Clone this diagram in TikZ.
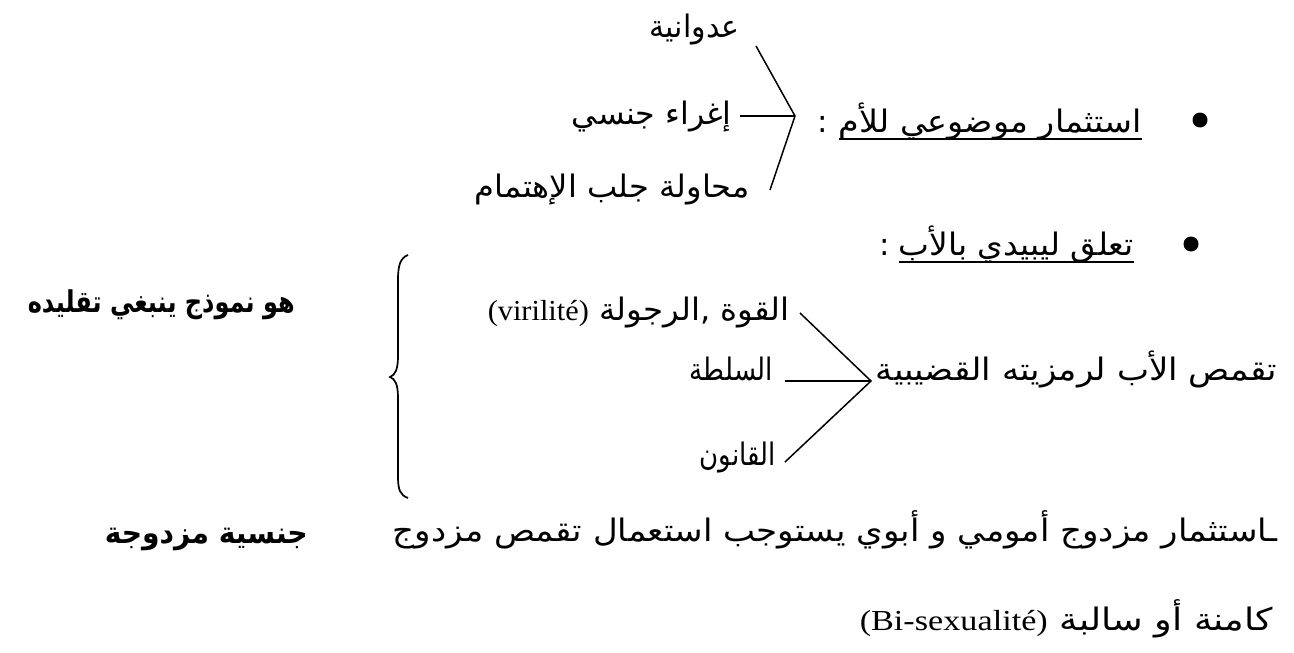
\documentclass[tikz,border=0pt]{standalone}
\usepackage{fontspec}
\usepackage{graphicx}
\TeXXeTstate=1
\setmainfont{Liberation Serif}
\newfontfamily\arabicfont[Script=Arabic]{DejaVu Sans}
\newfontfamily\latinserif{Liberation Serif}
\newcommand\ARtxt[2]{\resizebox{#1pt}{\height}{\fontsize{31}{34}\selectfont\arabicfont #2}}
\newcommand\ARbold[2]{\resizebox{#1pt}{\height}{\fontsize{30}{34}\selectfont\arabicfont\bfseries #2}}
\newcommand\LT[1]{{\fontsize{29}{34}\selectfont\latinserif #1}}
\begin{document}
\begin{tikzpicture}[x=1pt,y=-1pt,
  txt/.style={inner sep=0pt, anchor=base east},
  brk/.style={line width=1.5pt},
  ul/.style={line width=2.6pt},
  bul/.style={circle, fill=black, inner sep=0pt, minimum size=15pt},
  brace/.style={line width=1.7pt}]
\useasboundingbox (0,0) rectangle (1294,653);
\fill[white] (0,0) rectangle (1294,653);

% --- first bullet: investment of the mother
\node[txt] (a1) at (740,37) {\ARtxt{90}{\beginR عدوانية\endR}};
\node[txt] (a2) at (732,124) {\ARtxt{160}{\beginR إغراء جنسي\endR}};
\node[txt] (a3) at (750,197) {\ARtxt{275}{\beginR محاولة جلب الإهتمام\endR}};
\coordinate (t1) at (756,46);
\coordinate (v1) at (795,116);
\coordinate (b1) at (770,190);
\coordinate (m1) at (740,116);
\draw[brk] (t1) -- (v1) -- (b1);
\draw[brk] (m1) -- (v1);
\node[inner sep=0pt, anchor=base] (c1) at (823,132) {\fontsize{31}{34}\selectfont\arabicfont :};
\node[txt] (h1) at (1142,132) {\ARtxt{303}{\beginR استثمار موضوعي للأم\endR}};
\draw[ul] ([yshift=-7pt]h1.base west) -- ([yshift=-7pt]h1.base east);
\node[bul] (p1) at (1200,120) {};

% --- second bullet: libidinal attachment to the father
\node[inner sep=0pt, anchor=base] (c2) at (885,255) {\fontsize{31}{34}\selectfont\arabicfont :};
\node[txt] (h2) at (1134,255) {\ARtxt{235}{\beginR تعلق ليبيدي بالأب\endR}};
\draw[ul] ([yshift=-7pt]h2.base west) -- ([yshift=-7pt]h2.base east);
\node[bul] (p2) at (1191,244) {};

% --- left text and brace
\node[txt] (L) at (295,312) {\ARbold{267}{\beginR هو نموذج ينبغي تقليده\endR}};
\draw[brace] (408,255) .. controls (400,258) and (398,266) .. (398,280)
  -- (398,356) .. controls (398,370) and (395,375) .. (390,377)
  .. controls (395,379) and (398,384) .. (398,398)
  -- (398,476) .. controls (398,490) and (400,495) .. (408,498);

% --- identification with the father
\node[txt] (q1) at (790,320) {\ARtxt{302}{\LT{(virilité)} \beginR القوة ,الرجولة\endR}};
\node[txt] (s1) at (773,380) {\ARtxt{83}{\beginR السلطة\endR}};
\node[txt] (q2) at (776,465) {\ARtxt{76}{\beginR القانون\endR}};
\coordinate (t2) at (800,313);
\coordinate (v2) at (871,381);
\coordinate (m2) at (785,381);
\coordinate (b2) at (785,462);
\draw[brk] (t2) -- (v2) -- (b2);
\draw[brk] (m2) -- (v2);
\node[txt] (tq) at (1277,380) {\ARtxt{401}{\beginR تقمص الأب لرمزيته القضيبية\endR}};

% --- bottom lines
\node[txt] (bot) at (1278,541) {\ARtxt{885}{\beginR ـاستثمار مزدوج أمومي و أبوي يستوجب استعمال تقمص مزدوج\endR}};
\node[txt] (js) at (308,543) {\ARbold{203}{\beginR جنسية مزدوجة\endR}};
\node[txt] (km) at (1273,630) {\ARtxt{413}{\LT{(Bi-sexualité)} \beginR كامنة أو سالبة\endR}};
\end{tikzpicture}
\end{document}
